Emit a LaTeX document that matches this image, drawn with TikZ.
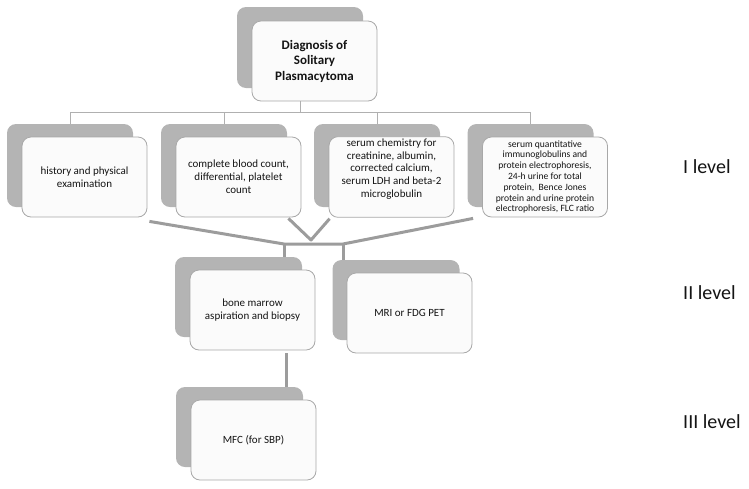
\documentclass[tikz,border=0pt]{standalone}
\usepackage{fontspec}
\setmainfont{Carlito}
\definecolor{shadowgray}{HTML}{B4B4B4}
\definecolor{cardborder}{HTML}{A8A8A8}
\definecolor{cardfill}{HTML}{FBFBFB}
\definecolor{textcol}{HTML}{141414}
\definecolor{linegray}{HTML}{B0B0B0}
\definecolor{thickgray}{HTML}{9C9C9C}
\begin{document}
\begin{tikzpicture}[x=1pt,y=-1pt,
  shade/.style={draw=none, fill=shadowgray, rounded corners=9pt, minimum width=126pt, minimum height=81pt, inner sep=0pt},
  card/.style={draw=cardborder, line width=0.8pt, fill=cardfill, rounded corners=9pt, minimum width=125pt, minimum height=80pt, align=center, inner sep=2pt, font=\fontsize{11}{12.8}\selectfont, text=textcol},
  thinline/.style={draw=linegray, line width=1pt},
  thickline/.style={draw=thickgray, line width=3pt},
  lvl/.style={anchor=west, font=\fontsize{20}{22}\selectfont, text=textcol, inner sep=0pt}]
\useasboundingbox (0,0) rectangle (749,488);

% top
\node[shade] (s0) at (300,47.5) {};
\node[card, font=\bfseries\fontsize{13}{15.5}\selectfont] (b0) at (314.5,61) {Diagnosis of\\Solitary\\Plasmacytoma};

% level I
\node[shade, minimum height=83pt] (s1) at (70,165.5) {};
\node[card] (b1) at (84.5,177) {history and physical\\examination};
\node[shade, minimum height=83pt] (s2) at (224,165.5) {};
\node[card] (b2) at (238.5,177) {complete blood count,\\differential, platelet\\count};
\node[shade, minimum height=83pt] (s3) at (377,165.5) {};
\node[card] (b3) at (391.5,177) {serum chemistry for\\creatinine, albumin,\\corrected calcium,\\serum LDH and beta-2\\microglobulin\\[5pt]};
\node[shade, minimum height=83pt] (s4) at (530.5,165.5) {};
\node[card, font=\fontsize{9.6}{10.8}\selectfont] (b4) at (545,177) {serum quantitative\\immunoglobulins and\\protein electrophoresis,\\24-h urine for total\\protein,\ \ Bence Jones\\protein and urine protein\\electrophoresis, FLC ratio};

% level II
\node[shade, minimum width=127pt, minimum height=80pt] (s5) at (238.5,297) {};
\node[card] (b5) at (252.5,310) {bone marrow\\aspiration and biopsy};
\node[shade, minimum width=127pt, minimum height=80pt] (s6) at (396,300) {};
\node[card] (b6) at (409.5,313) {MRI or FDG PET};

% level III
\node[shade, minimum width=127pt, minimum height=80pt] (s7) at (239.5,427) {};
\node[card] (b7) at (253.5,440) {MFC (for SBP)};

% thin tree connectors
\coordinate (bar) at (0,112);
\foreach \i in {1,...,4}
  \draw[thinline] (s0.south |- b0.south) -- (s0.south |- bar) -| (s\i.north);

% thick merging connectors
\coordinate (j1) at (284,244);
\coordinate (j2) at (343,244);
\coordinate (vb) at (311,240);
\coordinate (m1) at (286,0);
\draw[thickline, line join=round] ([shift={(2,4)}]b1.south east) -- (j1) -- (j2) -- ([shift={(-9,1)}]b4.south west);
\draw[thickline, line join=round] ([shift={(-13,1)}]b2.south east) -- (vb) -- ([shift={(1,1)}]b3.south west);
\draw[thickline] (j1) -- (j1 |- s5.north);
\draw[thickline] (j2) -- (j2 |- s6.north);
\draw[thickline] ([yshift=-3pt]b5.south -| m1) -- (s7.north -| m1);

% level labels
\node[lvl] (l1) at (683,167) {I level};
\node[lvl] (l2) at (683,293) {II level};
\node[lvl] (l3) at (683,422) {III level};
\end{tikzpicture}
\end{document}
